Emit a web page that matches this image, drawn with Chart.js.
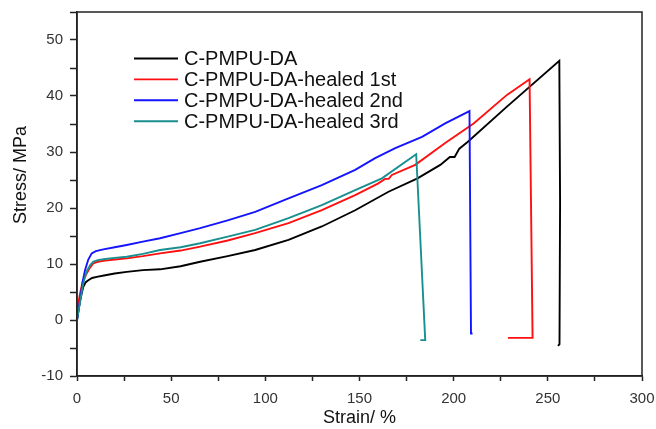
<!DOCTYPE html>
<html>
<head>
<meta charset="utf-8">
<title>Stress-strain curves</title>
<script src="https://cdn.jsdelivr.net/npm/chart.js@4.4.1/dist/chart.umd.min.js"></script>
<style>
  html, body { margin: 0; padding: 0; background: #fff; }
  #wrap { width: 656px; height: 429px; }
</style>
</head>
<body>
<div id="wrap"><canvas id="chart" width="656" height="429"></canvas></div>
<script>
/* ---------- Data ---------- */
const seriesNames = ['C-PMPU-DA', 'C-PMPU-DA-healed 1st', 'C-PMPU-DA-healed 2nd', 'C-PMPU-DA-healed 3rd'];
const seriesColors = ['#000000', '#ff1010', '#1414ff', '#1a8f8f'];

const strainDA = [0, 1, 2, 3.3, 4.5, 6, 8, 10.5, 15, 20, 26.4, 35, 44.1, 55, 65.4, 80, 94.6, 112.3, 130, 147.7, 165.4, 180.8, 192.9, 198, 200.5, 203, 207.4, 228.3, 256.1, 256.5, 256.2, 255.4];
const stressDA = [0, 2.2, 4.0, 5.9, 6.7, 7.1, 7.5, 7.7, 8.0, 8.3, 8.6, 8.9, 9.05, 9.6, 10.4, 11.4, 12.5, 14.3, 16.7, 19.6, 22.9, 25.3, 27.7, 29.1, 29.1, 30.6, 31.8, 38.1, 46.3, 21, -4.3, -4.6];

const strainH1 = [0, 0.5, 1.5, 3, 5.1, 7, 8.6, 11, 15, 20, 26.4, 35, 44.1, 55, 65.4, 80, 94.6, 112.3, 130, 147.7, 160, 163.6, 165.5, 167.2, 179.6, 195.5, 210.6, 228.3, 240.3, 241.9, 228.8];
const stressH1 = [1.0, 2.5, 4.5, 6.8, 8.3, 9.4, 10.1, 10.4, 10.6, 10.8, 11.0, 11.4, 11.9, 12.4, 13.1, 14.2, 15.5, 17.3, 19.6, 22.3, 24.4, 25.2, 25.2, 25.9, 27.7, 31.6, 35.1, 40.2, 43.0, -3.2, -3.2];

const strainH2 = [0, 1, 2, 3, 4.25, 6, 7.8, 10, 14, 20, 26.4, 35, 44.1, 55, 65.4, 80, 94.6, 112.3, 130, 147.7, 158.3, 169, 183.2, 195.5, 208.4, 209.2, 210];
const stressH2 = [0, 2.2, 4.5, 6.8, 8.9, 10.8, 11.9, 12.3, 12.6, 13.0, 13.4, 14.0, 14.6, 15.5, 16.4, 17.8, 19.3, 21.7, 24.1, 26.8, 28.9, 30.7, 32.7, 35.1, 37.3, -2.4, -2.4];

const strainH3 = [0, 1, 2, 3.3, 5, 7, 8.6, 11, 15, 20, 26.4, 35, 44.1, 55, 65.4, 80, 94.6, 112.3, 130, 147.7, 161.9, 180.1, 184.9, 182.3];
const stressH3 = [0, 2.0, 4.0, 6.5, 8.6, 9.8, 10.4, 10.7, 10.9, 11.1, 11.3, 11.8, 12.5, 13.0, 13.7, 14.9, 16.1, 18.2, 20.5, 23.2, 25.3, 29.6, -3.6, -3.6];

const xTickLabels = [0, 50, 100, 150, 200, 250, 300];
const yTickLabels = [-10, 0, 10, 20, 30, 40, 50];

const FONT = "'Liberation Sans', Arial, Helvetica, sans-serif";

function toPoints(xs, ys) {
    return xs.map((x, i) => ({ x: x, y: ys[i] }));
}

const allStrain = [strainDA, strainH1, strainH2, strainH3];
const allStress = [stressDA, stressH1, stressH2, stressH3];

const datasets = seriesNames.map((name, i) => ({
    label: name,
    data: toPoints(allStrain[i], allStress[i]),
    borderColor: seriesColors[i],
    backgroundColor: seriesColors[i],
    borderWidth: 1.9,
    pointRadius: 0,
    tension: 0,
    fill: false,
    order: 3 - i
}));

/* ---------- Frame, legend and y title ---------- */
const extras = {
    id: 'extras',
    afterDraw(chart) {
        const ctx = chart.ctx;
        const a = chart.chartArea;
        ctx.save();
        // box around the plot
        ctx.strokeStyle = '#222';
        ctx.lineWidth = 1.5;
        ctx.strokeRect(a.left, a.top, a.right - a.left, a.bottom - a.top);

        // legend inside plot
        ctx.font = '20px ' + FONT;
        ctx.textBaseline = 'middle';
        ctx.textAlign = 'left';
        seriesNames.forEach((name, i) => {
            const y = 58.5 + i * 20.9;
            ctx.strokeStyle = seriesColors[i];
            ctx.lineWidth = 1.9;
            ctx.beginPath();
            ctx.moveTo(134, y);
            ctx.lineTo(178, y);
            ctx.stroke();
            ctx.fillStyle = '#111';
            ctx.fillText(name, 184, y + 1);
        });

        // y axis title
        ctx.font = '18px ' + FONT;
        ctx.translate(21.5, 175);
        ctx.rotate(-Math.PI / 2);
        ctx.textAlign = 'center';
        ctx.fillStyle = '#111';
        ctx.fillText('Stress/ MPa', 0, 0);
        ctx.restore();
    }
};

new Chart(document.getElementById('chart'), {
    type: 'line',
    data: { datasets: datasets },
    plugins: [extras],
    options: {
        responsive: false,
        animation: false,
        devicePixelRatio: 1,
        layout: { padding: { top: 12, right: 14, left: 0, bottom: 0 } },
        plugins: { legend: { display: false }, tooltip: { enabled: false } },
        scales: {
            x: {
                type: 'linear',
                min: 0, max: 300,
                afterFit: (s) => { s.height = 53; s.paddingLeft = 0; s.paddingRight = 0; },
                ticks: {
                    stepSize: 25,
                    autoSkip: false,
                    maxRotation: 0,
                    padding: 9,
                    color: '#333',
                    font: { family: FONT, size: 15 },
                    callback: (v) => xTickLabels.includes(v) ? String(v) : ''
                },
                grid: { drawOnChartArea: false, drawTicks: true, tickLength: 5, tickColor: '#222', tickWidth: 1.5 },
                border: { color: '#222', width: 1.5 },
                title: { display: true, text: 'Strain/ %', color: '#111', font: { family: FONT, size: 18 }, padding: { top: 0, bottom: 0 } }
            },
            y: {
                type: 'linear',
                min: -10, max: 55,
                afterFit: (s) => { s.width = 77; s.paddingTop = 0; s.paddingBottom = 0; },
                ticks: {
                    stepSize: 5,
                    autoSkip: false,
                    padding: 7,
                    color: '#333',
                    font: { family: FONT, size: 15 },
                    callback: (v) => yTickLabels.includes(v) ? String(v) : ''
                },
                grid: { drawOnChartArea: false, drawTicks: true, tickLength: 7, tickColor: '#222', tickWidth: 1.5 },
                border: { color: '#222', width: 1.5 }
            }
        }
    }
});
</script>
</body>
</html>
